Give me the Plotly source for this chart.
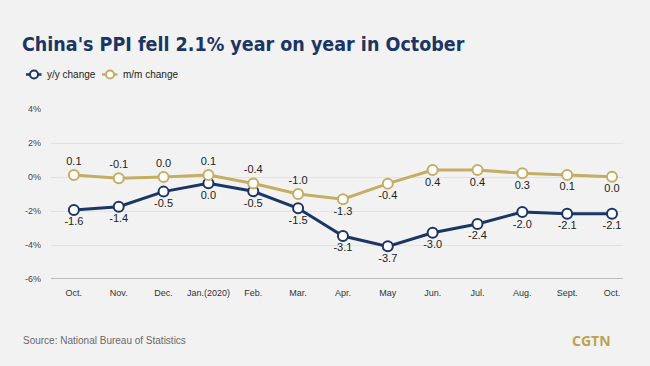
import plotly.graph_objects as go

months = ["Oct.", "Nov.", "Dec.", "Jan.(2020)", "Feb.", "Mar.", "Apr.", "May", "Jun.", "Jul.", "Aug.", "Sept.", "Oct."]
# plotted positions (%)
yoy_values = [-1.94, -1.75, -0.86, -0.37, -0.84, -1.84, -3.47, -4.08, -3.28, -2.76, -2.06, -2.16, -2.16]
yoy_labels = ["-1.6", "-1.4", "-0.5", "0.0", "-0.5", "-1.5", "-3.1", "-3.7", "-3.0", "-2.4", "-2.0", "-2.1", "-2.1"]
mom_values = [0.12, -0.08, 0.0, 0.12, -0.38, -1.0, -1.31, -0.39, 0.41, 0.41, 0.22, 0.12, 0.02]
mom_labels = ["0.1", "-0.1", "0.0", "0.1", "-0.4", "-1.0", "-1.3", "-0.4", "0.4", "0.4", "0.3", "0.1", "0.0"]
mom_label_pos = ["top center"] * 6 + ["bottom center"] * 7
y_ticks = [4, 2, 0, -2, -4, -6]
y_tick_text = ["4%", "2%", "0%", "-2%", "-4%", "-6%"]
series_names = ["y/y change", "m/m change"]

NAVY = "#1b3564"
GOLD = "#c4ae64"
BG = "#f2f2f2"
W, H = 650, 366
pl, pr, pt, pb = 51, 27, 109, 87
pw, ph = W - pl - pr, H - pt - pb


def px2paper(px, py):
    return (px - pl) / pw, (H - py - pb) / ph


x = list(range(len(months)))
lab_font = dict(family="Liberation Sans, Arial", size=11, color="#222222")

fig = go.Figure()
fig.add_trace(go.Scatter(
    x=x, y=yoy_values, name=series_names[0], mode="lines+markers+text",
    text=yoy_labels, textposition="bottom center", textfont=lab_font,
    line=dict(color=NAVY, width=3),
    marker=dict(size=10, color="white", line=dict(color=NAVY, width=2)),
    cliponaxis=False, showlegend=False,
))
fig.add_trace(go.Scatter(
    x=x, y=mom_values, name=series_names[1], mode="lines+markers+text",
    text=mom_labels, textposition=mom_label_pos, textfont=lab_font,
    line=dict(color=GOLD, width=3),
    marker=dict(size=10, color="white", line=dict(color=GOLD, width=2)),
    cliponaxis=False, showlegend=False,
))

shapes = [dict(type="line", xref="paper", yref="y", x0=0, x1=1, y0=-6, y1=-6,
               line=dict(color="#bbbbbb", width=2))]
annotations = []

# compact legend (symbol line + hollow circle + label)
leg_y = 74.5
for (sx, tx, name, col) in [(26, 45, series_names[0], NAVY), (102, 121, series_names[1], GOLD)]:
    x0, yy = px2paper(sx, leg_y)
    x1, _ = px2paper(sx + 15.5, leg_y)
    shapes.append(dict(type="line", xref="paper", yref="paper", x0=x0, x1=x1, y0=yy, y1=yy,
                       line=dict(color=col, width=2.5), layer="above"))
    cx0, cy0 = px2paper(sx + 4, leg_y - 4)
    cx1, cy1 = px2paper(sx + 12, leg_y + 4)
    shapes.append(dict(type="circle", xref="paper", yref="paper", x0=cx0, x1=cx1, y0=cy1, y1=cy0,
                       fillcolor="white", line=dict(color=col, width=2), layer="above"))
    ax, ay = px2paper(tx, leg_y)
    annotations.append(dict(text=name, xref="paper", yref="paper", x=ax, y=ay,
                            xanchor="left", yanchor="middle", showarrow=False,
                            font=dict(family="Liberation Sans, Arial", size=10, color="#222222")))

sx_, sy_ = px2paper(21, 340)
cx_, cy_ = px2paper(613, 340)
annotations += [
    dict(text="Source: National Bureau of Statistics", xref="paper", yref="paper",
         x=sx_, y=sy_, xanchor="left", yanchor="middle", showarrow=False,
         font=dict(family="Liberation Sans, Arial", size=10, color="#6a6a6a")),
    dict(text="<b>CGTN</b>", xref="paper", yref="paper",
         x=cx_, y=cy_, xanchor="right", yanchor="middle", showarrow=False,
         font=dict(family="Open Sans, Liberation Sans", size=14, color="#b9a451")),
]

fig.update_layout(
    width=W, height=H,
    paper_bgcolor=BG, plot_bgcolor=BG,
    margin=dict(l=pl, r=pr, t=pt, b=pb),
    showlegend=False,
    title=dict(text="China's PPI fell 2.1% year on year in October",
               xref="container", yref="container", x=22 / W, y=1 - 44 / H,
               xanchor="left", yanchor="middle",
               font=dict(family="DejaVu Sans Condensed, DejaVu Sans", size=19.5, color=NAVY, weight="bold")),
    xaxis=dict(tickvals=x, ticktext=months, range=[-0.51, 12.245],
               showgrid=False, zeroline=False, showline=False, ticks="",
               ticklabelstandoff=7,
               tickfont=dict(family="Liberation Sans, Arial", size=9, color="#333333"),
               fixedrange=True),
    yaxis=dict(range=[-6, 4], tickvals=y_ticks, ticktext=y_tick_text,
               showgrid=True, gridcolor="#e2e2e2", gridwidth=1,
               zeroline=False, showline=False, ticks="", ticklabelstandoff=9,
               tickfont=dict(family="Liberation Sans, Arial", size=9, color="#444444"),
               fixedrange=True),
    shapes=shapes,
    annotations=annotations,
)

fig.write_html("out.html", config={"displayModeBar": False},
               post_script="document.body.style.margin='0';document.body.style.background='%s';" % BG)
